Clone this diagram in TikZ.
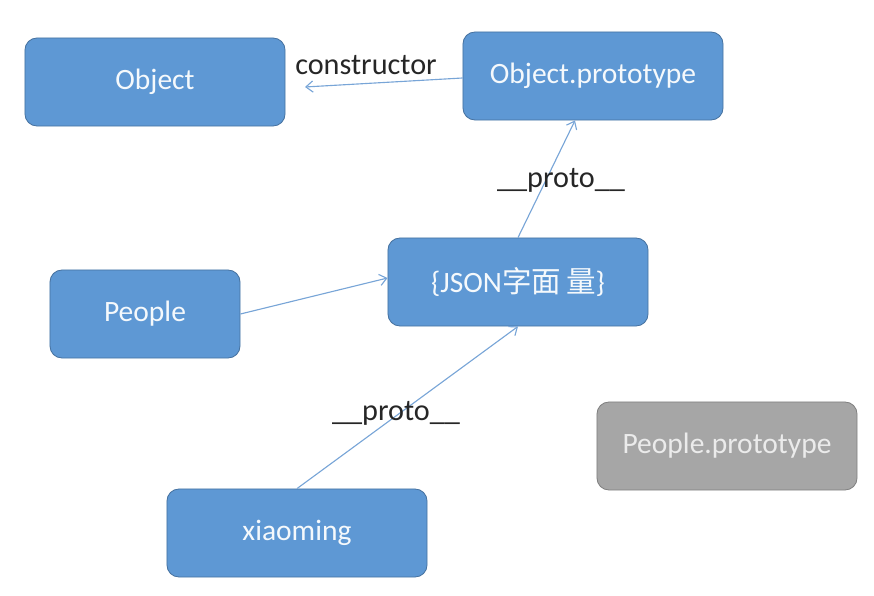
\documentclass[tikz,border=0pt]{standalone}
\usepackage{fontspec}
\setmainfont{Carlito}
\newfontfamily\cjk{Noto Sans CJK SC}
\usetikzlibrary{arrows.meta}
\definecolor{boxblue}{RGB}{94,152,212}
\definecolor{boxline}{RGB}{70,114,160}
\definecolor{boxgray}{RGB}{166,166,166}
\definecolor{grayline}{RGB}{128,128,128}
\definecolor{linkblue}{RGB}{120,165,215}
\tikzset{
  objbox/.style={draw=boxline, line width=0.6pt, fill=boxblue, rounded corners=0.3cm,
    minimum width=6.5cm, minimum height=2.2cm, text=white!94!boxblue, font=\fontsize{21}{24}\selectfont},
  greybox/.style={objbox, draw=grayline, fill=boxgray, text=white!92!black},
  link/.style={draw=linkblue, line width=0.8pt, -{Straight Barb[length=5pt,width=8pt]}},
  linklabel/.style={text=black!85, font=\fontsize{21.5}{24}\selectfont}
}

\begin{document}
\begin{tikzpicture}[x=0.025cm, y=-0.025cm]
			%%%%% START %%%%%
			\useasboundingbox (0, 0) rectangle (874, 596);
			
			\node[objbox] (object) at (155, 82) {Object};
			\node[objbox] (objproto) at (593, 76) {Object.prototype};
			\node[objbox, minimum width=4.75cm] (people) at (145, 314) {People};
			\node[objbox] (json) at (518, 282) {\{JSON{\cjk 字面}\,{\cjk 量}\}};
			\node[greybox] (peopleproto) at (727, 446) {People.prototype};
			\node[objbox] (xiaoming) at (297, 533) {xiaoming};
			
			\coordinate (ctorend) at (305, 87);
			
			\draw[link] ([yshift=-0.05cm]objproto.west) -- (ctorend);
			\draw[link] (json.north) -- ([xshift=-0.45cm]objproto.south);
			\draw[link] (people.east) -- ([yshift=0.1cm]json.west);
			\draw[link] (xiaoming.north) -- (json.south);
			
			\node[linklabel] (ctorlabel) at (366, 65) {constructor};
			\node[linklabel] (protolabel) at (561, 180) {\_\_proto\_\_};
			\node[linklabel] (protolabeltwo) at (396, 413) {\_\_proto\_\_};
			
			%%%%% END %%%%%
		\end{tikzpicture}
\end{document}
